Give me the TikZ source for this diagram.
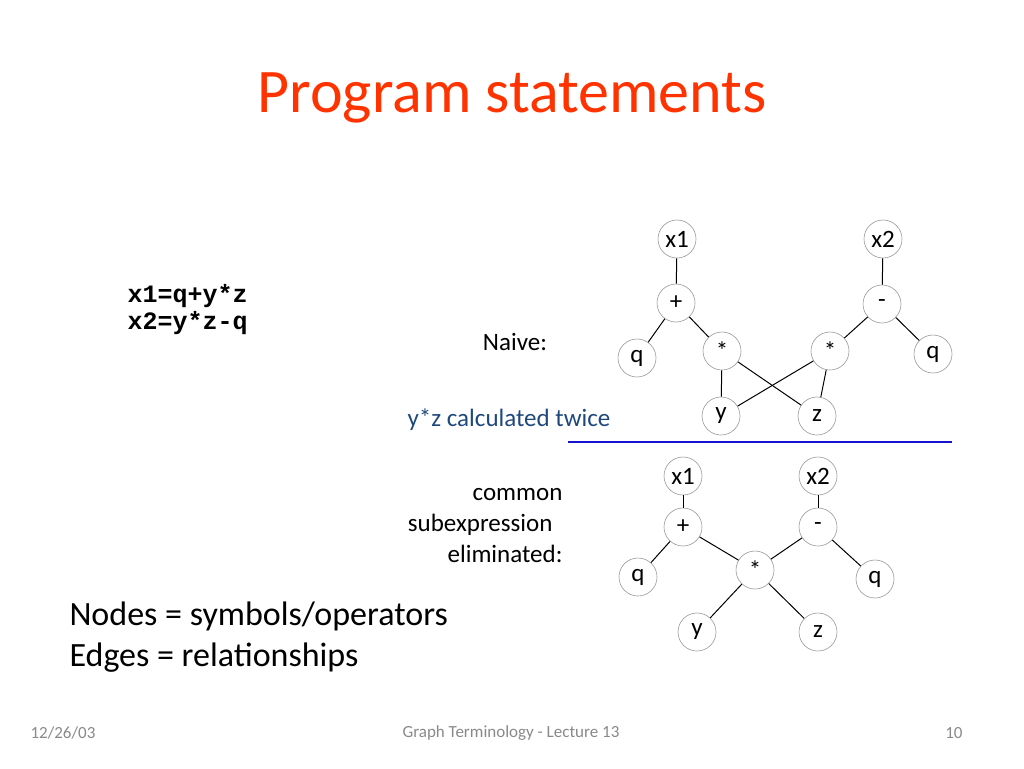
\documentclass[tikz,border=0pt]{standalone}
\usepackage{fontspec}
\setmainfont{Carlito}
\setmonofont{Liberation Mono}
\definecolor{titlered}{RGB}{255,51,0}
\definecolor{notebl}{RGB}{31,73,125}
\definecolor{rulebl}{RGB}{20,20,210}
\definecolor{footgray}{RGB}{137,137,137}

\begin{document}
\begin{tikzpicture}[x=1pt, y=-1pt,
    vert/.style={circle, draw=gray!80, line width=0.6pt, minimum size=38pt, inner sep=0pt, font=\fontsize{25}{27}\selectfont},
    edge/.style={line width=1pt}]
            \useasboundingbox (0,0) rectangle (1024,768);
            \node[text=titlered, font=\fontsize{62}{70}\selectfont] (title) at (512,98) {Program statements};
            \node[right, align=left, font=\ttfamily\bfseries\fontsize{25}{27}\selectfont] (code) at (124,310) {x1=q+y*z\\x2=y*z-q};
            % naive
            \node[font=\fontsize{25}{27}\selectfont] (naive) at (515,342) {Naive:};
            \node (x1a) [vert] at (677,239) {x1};
            \node (pla) [vert] at (676,303) {+};
            \node (qa) [vert] at (637,358) {q};
            \node (mla) [vert] at (722,351) {*};
            \node (mra) [vert] at (830,351) {*};
            \node (mia) [vert] at (882,304) {-};
            \node (x2a) [vert] at (883,239) {x2};
            \node (qra) [vert] at (933,354) {q};
            \node (ya) [vert] at (721,416) {y};
            \node (za) [vert] at (817,416) {z};
            \draw[edge] (x1a) -- (pla);
            \draw[edge] (pla) -- (qa);
            \draw[edge] (pla) -- (mla);
            \draw[edge] (mla) -- (ya);
            \draw[edge] (mla) -- (za);
            \draw[edge] (mra) -- (ya);
            \draw[edge] (mra) -- (za);
            \draw[edge] (mia) -- (mra);
            \draw[edge] (mia) -- (qra);
            \draw[edge] (x2a) -- (mia);
            \node[text=notebl, font=\fontsize{25}{27}\selectfont] (twice) at (509,420) {y*z calculated twice};
            \coordinate (rl) at (568,442);
            \coordinate (rr) at (952,442);
            \draw[rulebl, line width=1.2pt] (rl) -- (rr);
            % common subexpression
            \node[left, align=right, font=\fontsize{25}{31}\selectfont] (cse) at (566,526) {common\\subexpression\kern10pt\\eliminated:};
            \node (x1b) [vert] at (683,476) {x1};
            \node (plb) [vert] at (683,527) {+};
            \node (qb) [vert] at (638,577) {q};
            \node (mb) [vert] at (755,570) {*};
            \node (mib) [vert] at (818,527) {-};
            \node (x2b) [vert] at (818,476) {x2};
            \node (qrb) [vert] at (875,579) {q};
            \node (yb) [vert] at (697,632) {y};
            \node (zb) [vert] at (818,632) {z};
            \draw[edge] (x1b) -- (plb);
            \draw[edge] (plb) -- (qb);
            \draw[edge] (plb) -- (mb);
            \draw[edge] (mb) -- (yb);
            \draw[edge] (mb) -- (zb);
            \draw[edge] (mib) -- (mb);
            \draw[edge] (mib) -- (qrb);
            \draw[edge] (x2b) -- (mib);
            \node[right, align=left, font=\fontsize{34}{41}\selectfont] (notes) at (66,637) {Nodes = symbols/operators\\Edges = relationships};
            % footer
            \node[right, text=footgray, font=\fontsize{17}{19}\selectfont] (date) at (27,733) {12/26/03};
            \node[text=footgray, font=\fontsize{17}{19}\selectfont] (foot) at (511,733) {Graph Terminology - Lecture 13};
            \node[left, text=footgray, font=\fontsize{17}{19}\selectfont] (pg) at (966,733) {10};
        \end{tikzpicture}
\end{document}
